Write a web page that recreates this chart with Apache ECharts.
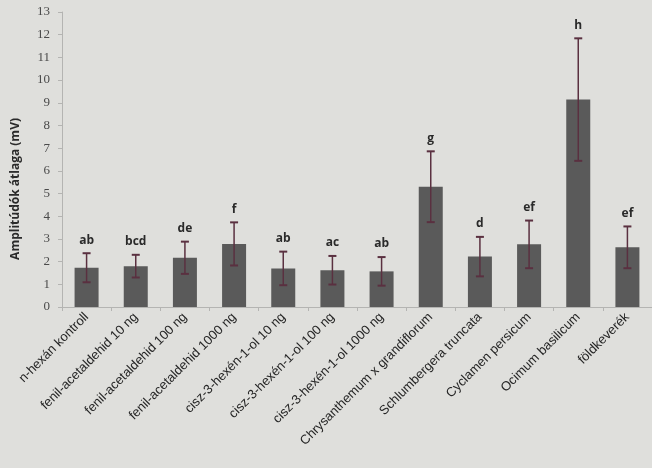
<!DOCTYPE html>
<html>
<head>
<meta charset="utf-8">
<script src="https://cdn.jsdelivr.net/npm/echarts@6/dist/echarts.min.js"></script>
<style>
  html, body { margin: 0; padding: 0; background: #dfdfdc; }
  #chart { width: 652px; height: 468px; }
</style>
</head>
<body>
<div id="chart"></div>
<script>
// Treatments tested
const categories = [
  'n-hexán kontroll',
  'fenil-acetaldehid 10 ng',
  'fenil-acetaldehid 100 ng',
  'fenil-acetaldehid 1000 ng',
  'cisz-3-hexén-1-ol 10 ng',
  'cisz-3-hexén-1-ol 100 ng',
  'cisz-3-hexén-1-ol 1000 ng',
  'Chrysanthemum x grandiflorum',
  'Schlumbergera truncata',
  'Cyclamen persicum',
  'Ocimum basilicum',
  'földkeverék'
];
// Mean amplitude (mV)
const means = [1.73, 1.80, 2.17, 2.78, 1.70, 1.62, 1.57, 5.30, 2.22, 2.76, 9.14, 2.63];
// Error (± around mean)
const errors = [0.64, 0.50, 0.71, 0.95, 0.74, 0.63, 0.63, 1.56, 0.87, 1.05, 2.70, 0.92];
// Significance groups
const letters = ['ab', 'bcd', 'de', 'f', 'ab', 'ac', 'ab', 'g', 'd', 'ef', 'h', 'ef'];
// Y-axis range
const yMin = 0, yMax = 13, yStep = 1;

const errorData = means.map((m, i) => [i, m - errors[i], m + errors[i], letters[i]]);

const chart = echarts.init(document.getElementById('chart'), null, { renderer: 'canvas' });

chart.setOption({
  backgroundColor: '#dfdfdc',
  animation: false,
  grid: { left: 62, right: -11, top: 12, bottom: 161, containLabel: false },
  xAxis: {
    type: 'category',
    data: categories,
    axisLine: { lineStyle: { color: '#b4b4b2', width: 1 } },
    axisTick: { show: true, length: 4, lineStyle: { color: '#b4b4b2' } },
    axisLabel: {
      rotate: 45,
      interval: 0,
      margin: 8,
      color: '#262626',
      fontFamily: 'Liberation Sans, Arial, sans-serif',
      fontSize: 13
    }
  },
  yAxis: {
    type: 'value',
    min: yMin,
    max: yMax,
    interval: yStep,
    axisLine: { show: true, lineStyle: { color: '#b4b4b2', width: 1 } },
    axisTick: { show: true, length: 4, lineStyle: { color: '#b4b4b2' } },
    splitLine: { show: false },
    axisLabel: {
      margin: 12,
      color: '#4a4a4a',
      fontFamily: 'Liberation Serif, DejaVu Serif, serif',
      fontSize: 13
    }
  },
  graphic: [{
    type: 'text',
    left: 10,
    top: 118,
    rotation: Math.PI / 2,
    style: {
      text: 'Amplitúdók átlaga (mV)',
      font: 'bold 12px "Open Sans", "Liberation Sans", sans-serif',
      fill: '#2a2a2a'
    }
  }],
  series: [
    {
      type: 'bar',
      data: means,
      barWidth: 24,
      itemStyle: { color: '#5a5a5a' }
    },
    {
      type: 'custom',
      data: errorData,
      z: 5,
      renderItem: function (params, api) {
        const i = api.value(0);
        const lo = api.coord([i, api.value(1)]);
        const hi = api.coord([i, api.value(2)]);
        const cap = 4;
        const color = '#5a3040';
        return {
          type: 'group',
          children: [
            { type: 'line', shape: { x1: hi[0], y1: hi[1], x2: lo[0], y2: lo[1] }, style: { stroke: color, lineWidth: 1.5 } },
            { type: 'line', shape: { x1: hi[0] - cap, y1: hi[1], x2: hi[0] + cap, y2: hi[1] }, style: { stroke: color, lineWidth: 2 } },
            { type: 'line', shape: { x1: lo[0] - cap, y1: lo[1], x2: lo[0] + cap, y2: lo[1] }, style: { stroke: color, lineWidth: 2 } },
            {
              type: 'text',
              style: {
                text: api.value(3),
                x: hi[0],
                y: hi[1] - 7,
                align: 'center',
                verticalAlign: 'bottom',
                font: 'bold 12px "Open Sans", "Liberation Sans", sans-serif',
                fill: '#2a2a2a'
              }
            }
          ]
        };
      }
    }
  ]
});
</script>
</body>
</html>
